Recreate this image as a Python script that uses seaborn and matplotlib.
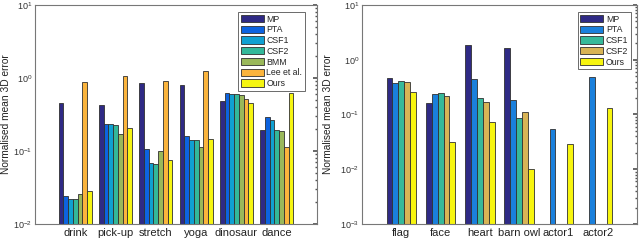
import numpy as np
import pandas as pd
import matplotlib
matplotlib.use("Agg")
import matplotlib.pyplot as plt
import seaborn as sns

# left panel: motion capture sequences
left_cats = ["drink", "pick-up", "stretch", "yoga", "dinosaur", "dance"]
left_methods = ["MP", "PTA", "CSF1", "CSF2", "BMM", "Lee et al.", "Ours"]
left_vals = {
    "MP":         [0.45, 0.43, 0.86, 0.81, 0.49, 0.194],
    "PTA":        [0.024, 0.234, 0.106, 0.159, 0.63, 0.29],
    "CSF1":       [0.022, 0.232, 0.0685, 0.143, 0.60, 0.266],
    "CSF2":       [0.022, 0.225, 0.067, 0.143, 0.60, 0.194],
    "BMM":        [0.026, 0.171, 0.100, 0.115, 0.58, 0.186],
    "Lee et al.": [0.88, 1.06, 0.90, 1.23, 0.51, 0.115],
    "Ours":       [0.028, 0.205, 0.076, 0.146, 0.46, 0.63],
}
left_colors = ["#2f2a85", "#0d63e0", "#10a0d2", "#33b89a", "#9ab85a", "#fbb43c", "#f5f512"]

# right panel: real sequences (nan = method not run)
right_cats = ["flag", "face", "heart", "barn owl", "actor1", "actor2"]
right_methods = ["MP", "PTA", "CSF1", "CSF2", "Ours"]
right_vals = {
    "MP":   [0.47, 0.161, 1.83, 1.63, np.nan, np.nan],
    "PTA":  [0.37, 0.239, 0.45, 0.183, 0.055, 0.48],
    "CSF1": [0.41, 0.25, 0.196, 0.088, np.nan, np.nan],
    "CSF2": [0.40, 0.22, 0.166, 0.109, np.nan, np.nan],
    "Ours": [0.26, 0.032, 0.073, 0.0099, 0.0286, 0.13],
}
right_colors = ["#2f2a85", "#1a80dc", "#36b99a", "#d8b455", "#f7f50f"]


def long_form(cats, methods, vals):
    rows = []
    for m in methods:
        for c, v in zip(cats, vals[m]):
            rows.append({"seq": c, "method": m, "err": v})
    return pd.DataFrame(rows)


sns.set_theme(style="white")
plt.rcParams["font.family"] = ["Liberation Sans", "DejaVu Sans"]
plt.rcParams["mathtext.fontset"] = "custom"
plt.rcParams["mathtext.rm"] = "Liberation Sans"

fig = plt.figure(figsize=(6.4, 2.4), dpi=100)
ax1 = fig.add_axes([0.0547, 0.0667, 0.4406, 0.9125])
ax2 = fig.add_axes([0.5656, 0.0667, 0.4297, 0.9125])

panels = [
    (ax1, left_cats, left_methods, left_vals, left_colors, (1e-2, 1e1), 0.82, (0.957, 0.968)),
    (ax2, right_cats, right_methods, right_vals, right_colors, (1e-3, 1e1), 0.75, (0.978, 0.968)),
]

for ax, cats, methods, vals, colors, ylim, w, anchor in panels:
    df = long_form(cats, methods, vals)
    ax.set_yscale("log")
    sns.barplot(data=df, x="seq", y="err", hue="method", order=cats,
                hue_order=methods, palette=colors, width=w, gap=0,
                edgecolor="#303030", linewidth=0.6, saturation=1,
                errorbar=None, ax=ax)
    ax.set_ylim(*ylim)
    ax.set_xlim(-1, len(cats))
    ax.set_xlabel("")
    ax.set_ylabel("Normalised mean 3D error", fontsize=7.3, color="#222222")
    ax.tick_params(axis="y", which="both", direction="in", right=True,
                   labelsize=6.5, colors="#555555", labelcolor="#333333", pad=2)
    ax.tick_params(axis="y", which="major", length=3)
    ax.tick_params(axis="y", which="minor", length=1.5)
    ax.tick_params(axis="x", length=0, labelsize=8, labelcolor="#222222", pad=3)
    for s in ax.spines.values():
        s.set_color("#777777")
        s.set_linewidth(0.8)
    leg = ax.legend(loc="upper right", bbox_to_anchor=anchor, fontsize=6.3,
                    frameon=True, fancybox=False,
                    handlelength=2.6, handleheight=0.9, handletextpad=0.3,
                    labelspacing=0.2, borderpad=0.3, borderaxespad=0)
    leg.get_frame().set_edgecolor("#444444")
    leg.get_frame().set_linewidth(0.7)

ax1.yaxis.set_label_coords(-0.085, 0.5)
ax2.yaxis.set_label_coords(-0.105, 0.5)

fig.savefig("out.png", dpi=100)
